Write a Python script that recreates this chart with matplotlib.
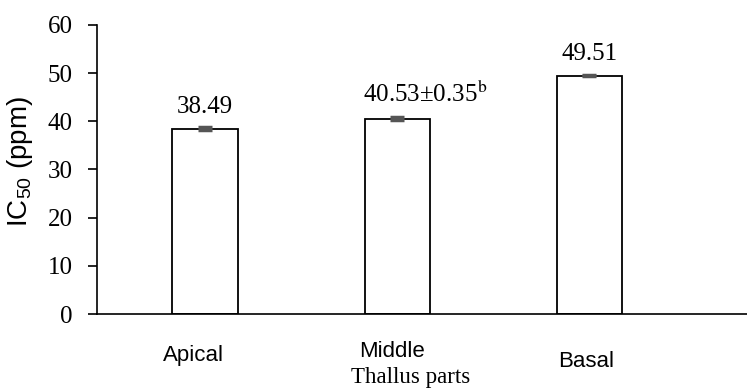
import numpy as np
import matplotlib.pyplot as plt

parts = ['Apical', 'Middle', 'Basal']
ic50 = [38.49, 40.53, 49.51]
err = [0.3, 0.35, 0.15]
bar_labels = ['38.49', '40.53\u00b10.35$^{\\mathrm{b}}$', '49.51']
yticks = [0, 10, 20, 30, 40, 50, 60]

plt.rcParams['mathtext.fontset'] = 'custom'
plt.rcParams['mathtext.rm'] = 'Liberation Sans'
plt.rcParams['mathtext.it'] = 'Liberation Sans:italic'

fig = plt.figure(figsize=(7.47, 3.88), dpi=100)
ax = fig.add_axes([0.1299, 0.1907, 0.8701, 0.7449])

x = np.arange(len(parts))
w = 0.34
ax.bar(x, ic50, width=w, color='white', edgecolor='black', linewidth=1.3, zorder=2)
ax.errorbar(x, ic50, yerr=err, fmt='none', ecolor='#555555', elinewidth=1.2,
            capsize=5, capthick=2.5, zorder=3)

# value labels above the bars
for i in range(len(parts)):
    if i == 1:
        ax.text(x[i] - w / 2 - 0.01, ic50[i] + 3.4, bar_labels[i], ha='left', va='baseline',
                fontsize=18, family='Liberation Serif', math_fontfamily='stix')
    else:
        ax.text(x[i], ic50[i] + 3.3, bar_labels[i], ha='center', va='baseline',
                fontsize=18, family='Liberation Serif')

ax.set_xlim(-0.5625, 2.82)
ax.set_ylim(0, 60)
ax.set_yticks(yticks)
ax.set_yticklabels([str(t) for t in yticks], family='Liberation Serif', fontsize=18)
ax.tick_params(axis='y', direction='out', length=6.5, width=1.2, pad=11)

# staggered category labels under the axis
ax.set_xticks([])
dx = [-0.06, -0.03, -0.015]
ly = [-0.142, -0.131, -0.166]
for i, p in enumerate(parts):
    ax.text(x[i] + dx[i], ly[i], p, transform=ax.get_xaxis_transform(),
            ha='center', va='center', fontsize=16, family='Liberation Sans')
ax.text(1.068, -0.221, 'Thallus parts', transform=ax.get_xaxis_transform(),
        ha='center', va='center', fontsize=16.5, family='Liberation Serif')

ax.set_ylabel('IC$_{\\mathrm{50}}$ (ppm)', fontsize=20, family='Liberation Sans')
ax.yaxis.set_label_coords(-0.095, 0.526)

for s in ['top', 'right']:
    ax.spines[s].set_visible(False)
ax.spines['left'].set_linewidth(1.2)
ax.spines['bottom'].set_linewidth(1.2)

fig.savefig('out.png', dpi=100)
